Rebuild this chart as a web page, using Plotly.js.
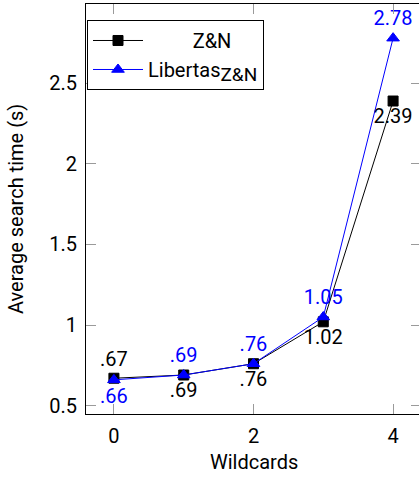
<!DOCTYPE html>
<html>
<head>
<meta charset="utf-8">
<script src="https://cdn.plot.ly/plotly-3.0.1.min.js"></script>
<style>
html,body{margin:0;padding:0;overflow:hidden;background:#fff;}
#chart{width:421px;height:480px;}
</style>
</head>
<body>
<div id="chart"></div>
<script>
const wildcards = [0, 1, 2, 3, 4];
const znTimes = [0.67, 0.69, 0.76, 1.02, 2.39];
const libertasTimes = [0.66, 0.69, 0.76, 1.05, 2.78];
const znLabelPos = ['top center', 'bottom center', 'bottom center', 'bottom center', 'bottom center'];
const libLabelPos = ['bottom center', 'top center', 'top center', 'top center', 'top center'];
const xTicks = [0, 2, 4];
const yTicks = [0.5, 1, 1.5, 2, 2.5];

function fmt(v) {
  const s = v.toFixed(2);
  return v < 1 ? s.slice(1) : s;
}

const FONT = 'Roboto, "Open Sans", sans-serif';
const NB = '\u00A0';

const traces = [
  {
    x: wildcards, y: znTimes, name: NB.repeat(9) + 'Z&amp;N',
    mode: 'lines+markers+text',
    line: {color: '#000000', width: 1},
    marker: {symbol: 'square', size: 10, color: '#000000', line: {color: '#000000', width: 1}},
    text: znTimes.map(fmt), textposition: znLabelPos,
    textfont: {family: FONT, size: 20, color: '#000000'},
    cliponaxis: false
  },
  {
    x: wildcards, y: libertasTimes, name: 'Libertas<sub><span style="font-size:19px">Z&amp;N</span></sub>',
    mode: 'lines+markers+text',
    line: {color: '#0000ff', width: 1},
    marker: {symbol: 'triangle-up', size: 11, color: '#0000ff', line: {color: '#0000ff', width: 1}},
    text: libertasTimes.map(fmt), textposition: libLabelPos,
    textfont: {family: FONT, size: 20, color: '#0000ff'},
    cliponaxis: false
  }
];

const axisCommon = {
  showgrid: false, zeroline: false,
  showline: true, linecolor: '#000000', linewidth: 1, mirror: 'ticks',
  ticks: 'inside', ticklen: 10, tickcolor: '#9a9a9a', tickwidth: 1,
  tickfont: {family: FONT, size: 20, color: '#000000'}
};

const layout = {
  width: 421, height: 480,
  margin: {l: 86, r: 0, t: 4, b: 66},
  paper_bgcolor: '#ffffff', plot_bgcolor: '#ffffff',
  font: {family: FONT, size: 20, color: '#000000'},
  xaxis: Object.assign({}, axisCommon, {
    range: [-0.4, 4.4], tickmode: 'array', tickvals: xTicks, ticktext: xTicks.map(String),
    ticklabelstandoff: 4
  }),
  yaxis: Object.assign({}, axisCommon, {
    range: [0.448, 2.992], tickmode: 'array', tickvals: yTicks, ticktext: yTicks.map(String),
    ticklabelstandoff: 4
  }),
  showlegend: true,
  legend: {
    x: 0.003, y: 0.961, xanchor: 'left', yanchor: 'top',
    bgcolor: '#ffffff', bordercolor: '#000000', borderwidth: 1,
    font: {family: FONT, size: 20, color: '#000000'},
    tracegroupgap: 0, itemwidth: 50
  },
  annotations: [
    {text: 'Wildcards', xref: 'paper', yref: 'paper', x: 0.5, y: 0, xanchor: 'center', yanchor: 'top',
     yshift: -34, showarrow: false, font: {family: FONT, size: 20, color: '#000000'}},
    {text: 'Average search time (s)', xref: 'paper', yref: 'paper', x: 0, y: 0.5, xanchor: 'right', yanchor: 'middle',
     xshift: -56, textangle: -90, showarrow: false, font: {family: FONT, size: 20, color: '#000000'}}
  ]
};

Plotly.newPlot('chart', traces, layout, {displayModeBar: false, staticPlot: true});
</script>
</body>
</html>
